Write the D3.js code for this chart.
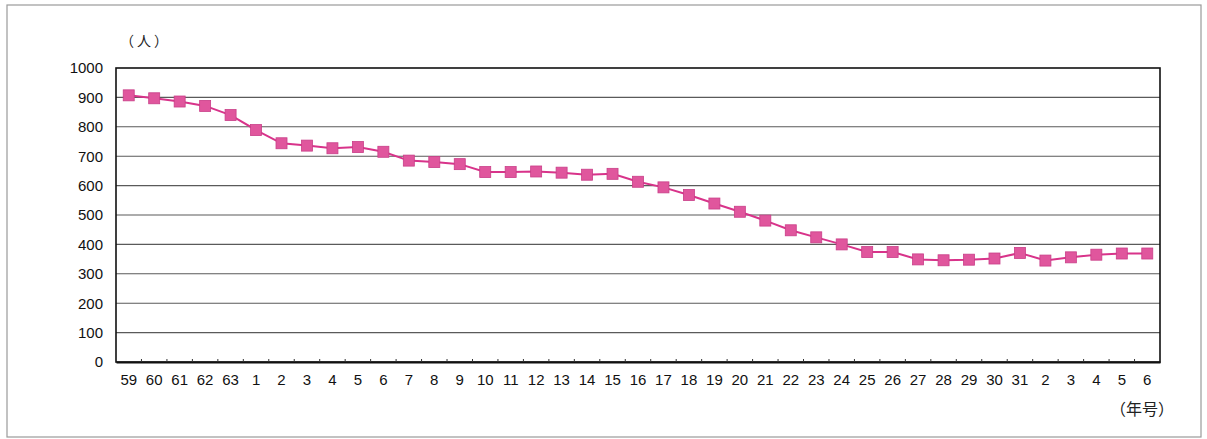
<!DOCTYPE html>
<html>
<head>
<meta charset="utf-8">
<script src="https://cdn.jsdelivr.net/npm/d3@7"></script>
<style>
  body { margin: 0; background: #fff; }
  svg { display: block; }
  .tick text { font-family: "Liberation Sans", Arial, sans-serif; font-size: 15px; fill: #111; }
</style>
</head>
<body>
<svg id="chart" width="1207" height="439"></svg>
<script>
// 年号ラベル（昭和59〜63、平成1〜31、令和2〜6）
const yearLabels = ["59", "60", "61", "62", "63",
  "1", "2", "3", "4", "5", "6", "7", "8", "9", "10", "11", "12", "13", "14", "15",
  "16", "17", "18", "19", "20", "21", "22", "23", "24", "25", "26", "27", "28", "29", "30", "31",
  "2", "3", "4", "5", "6"];

// 人数
const persons = [907, 897, 886, 871, 840,
  789, 744, 736, 727, 731, 715, 685, 680, 673, 646, 646, 648, 644, 637, 640,
  613, 594, 568, 539, 511, 481, 448, 424, 400, 374, 374, 349, 346, 348, 352, 371,
  345, 356, 365, 369, 369];

const yTicks = [0, 100, 200, 300, 400, 500, 600, 700, 800, 900, 1000];

const svg = d3.select("#chart");

// 外枠
svg.append("rect")
  .attr("x", 7).attr("y", 5)
  .attr("width", 1194).attr("height", 432)
  .attr("fill", "none")
  .attr("stroke", "#9a9a9a")
  .attr("stroke-width", 1.2);

const plotLeft = 116, plotRight = 1160, plotTop = 68, plotBottom = 362;

const x = d3.scaleBand()
  .domain(d3.range(yearLabels.length))
  .range([plotLeft, plotRight]);

const y = d3.scaleLinear()
  .domain([0, 1000])
  .range([plotBottom, plotTop]);

// 目盛線
svg.append("g")
  .selectAll("line")
  .data(yTicks.filter((d) => d > 0 && d < 1000))
  .enter()
  .append("line")
  .attr("x1", plotLeft)
  .attr("x2", plotRight)
  .attr("y1", (d) => y(d))
  .attr("y2", (d) => y(d))
  .attr("stroke", "#5a5a5a")
  .attr("stroke-width", 1.1);

// プロットエリアの枠
svg.append("rect")
  .attr("x", plotLeft).attr("y", plotTop)
  .attr("width", plotRight - plotLeft).attr("height", plotBottom - plotTop)
  .attr("fill", "none")
  .attr("stroke", "#111")
  .attr("stroke-width", 1.6);

// Y軸
svg.append("g")
  .attr("transform", `translate(${plotLeft},0)`)
  .call(d3.axisLeft(y).tickValues(yTicks).tickFormat(d3.format("d")).tickSize(0).tickPadding(13))
  .call((g) => g.select(".domain").remove());

// X軸
svg.append("g")
  .attr("transform", `translate(0,${plotBottom})`)
  .call(d3.axisBottom(x).tickSize(0).tickPadding(12).tickFormat((i) => yearLabels[i]))
  .call((g) => g.select(".domain").attr("stroke", "#111").attr("stroke-width", 2));

// 区切りの小さな目盛
svg.append("g")
  .selectAll("line")
  .data(d3.range(1, yearLabels.length))
  .enter()
  .append("line")
  .attr("x1", (i) => x(i))
  .attr("x2", (i) => x(i))
  .attr("y1", plotBottom)
  .attr("y2", plotBottom - 3)
  .attr("stroke", "#333")
  .attr("stroke-width", 1);

const cx = (i) => x(i) + x.bandwidth() / 2;

// 折れ線
const line = d3.line()
  .x((d, i) => cx(i))
  .y((d) => y(d));

svg.append("path")
  .datum(persons)
  .attr("d", line)
  .attr("fill", "none")
  .attr("stroke", "#d8338a")
  .attr("stroke-width", 2);

// マーカー
const size = 11;
svg.append("g")
  .selectAll("rect")
  .data(persons)
  .enter()
  .append("rect")
  .attr("x", (d, i) => cx(i) - size / 2)
  .attr("y", (d) => y(d) - size / 2)
  .attr("width", size)
  .attr("height", size)
  .attr("fill", "#e0569d")
  .attr("stroke", "#c93e88")
  .attr("stroke-width", 0.8);

// 単位ラベル
svg.append("text")
  .attr("x", 120)
  .attr("y", 46)
  .attr("font-family", "Noto Sans CJK JP")
  .attr("font-size", 14)
  .attr("letter-spacing", 3)
  .attr("fill", "#222")
  .text("（人）");

svg.append("text")
  .attr("x", 1110)
  .attr("y", 415)
  .attr("font-family", "Noto Sans CJK JP")
  .attr("font-size", 16)
  .attr("fill", "#222")
  .text("（年号）");
</script>
</body>
</html>
